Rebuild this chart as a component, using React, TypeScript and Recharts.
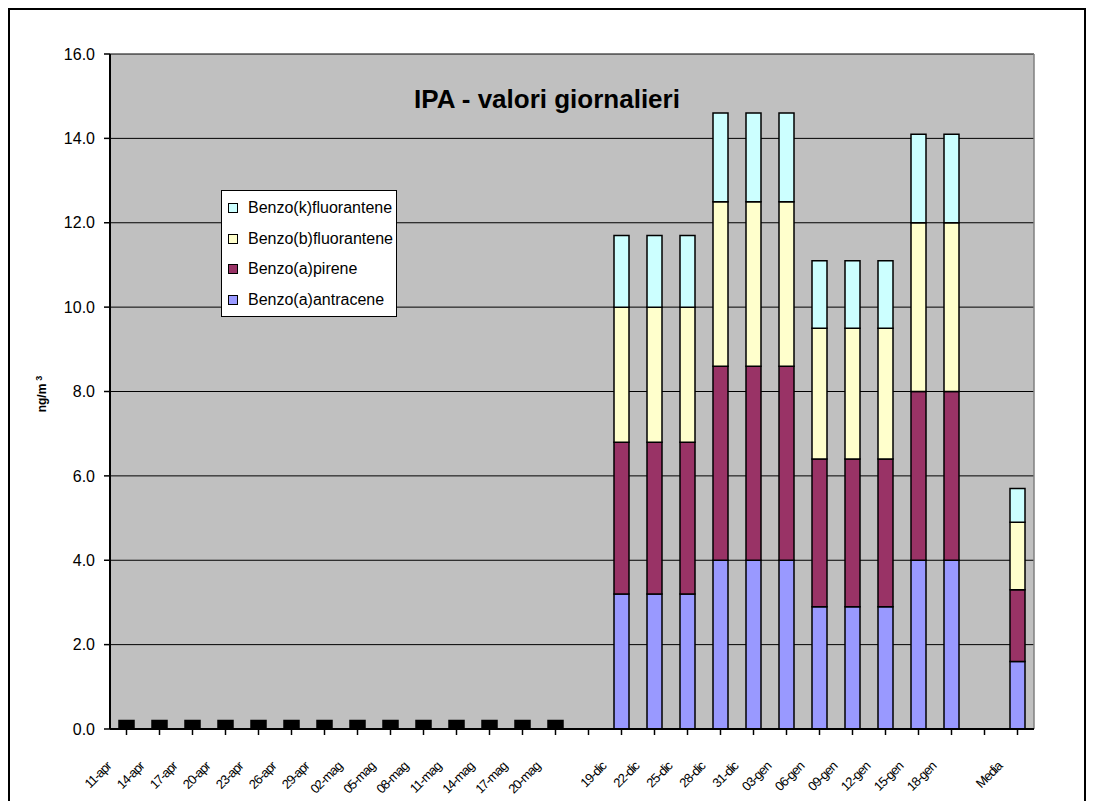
import { BarChart, Bar, XAxis, YAxis, CartesianGrid } from "recharts";

const categories = [
  "11-apr", "14-apr", "17-apr", "20-apr", "23-apr", "26-apr", "29-apr",
  "02-mag", "05-mag", "08-mag", "11-mag", "14-mag", "17-mag", "20-mag",
  "",
  "19-dic", "22-dic", "25-dic", "28-dic", "31-dic", "03-gen", "06-gen",
  "09-gen", "12-gen", "15-gen", "18-gen",
  "",
  "Media",
];

// valori sotto il limite (barre nere)
const sottoLimite = [
  0.2, 0.2, 0.2, 0.2, 0.2, 0.2, 0.2, 0.2, 0.2, 0.2, 0.2, 0.2, 0.2, 0.2,
  null,
  null, null, null, null, null, null, null, null, null, null, null,
  null,
  null,
];
const benzoAAntracene = [
  null, null, null, null, null, null, null, null, null, null, null, null, null, null,
  null,
  3.2, 3.2, 3.2, 4.0, 4.0, 4.0, 2.9, 2.9, 2.9, 4.0, 4.0,
  null,
  1.6,
];
const benzoAPirene = [
  null, null, null, null, null, null, null, null, null, null, null, null, null, null,
  null,
  3.6, 3.6, 3.6, 4.6, 4.6, 4.6, 3.5, 3.5, 3.5, 4.0, 4.0,
  null,
  1.7,
];
const benzoBFluorantene = [
  null, null, null, null, null, null, null, null, null, null, null, null, null, null,
  null,
  3.2, 3.2, 3.2, 3.9, 3.9, 3.9, 3.1, 3.1, 3.1, 4.0, 4.0,
  null,
  1.6,
];
const benzoKFluorantene = [
  null, null, null, null, null, null, null, null, null, null, null, null, null, null,
  null,
  1.7, 1.7, 1.7, 2.1, 2.1, 2.1, 1.6, 1.6, 1.6, 2.1, 2.1,
  null,
  0.8,
];

const yTicks = [0, 2, 4, 6, 8, 10, 12, 14, 16];

const SERIES = [
  { key: "baa", name: "Benzo(a)antracene", color: "#9999FF" },
  { key: "bap", name: "Benzo(a)pirene", color: "#993366" },
  { key: "bbf", name: "Benzo(b)fluorantene", color: "#FFFFCC" },
  { key: "bkf", name: "Benzo(k)fluorantene", color: "#CCFFFF" },
];

const data = categories.map((c, i) => ({
  name: c,
  nero: sottoLimite[i],
  baa: benzoAAntracene[i],
  bap: benzoAPirene[i],
  bbf: benzoBFluorantene[i],
  bkf: benzoKFluorantene[i],
}));

const FONT = "Arial, 'Liberation Sans', sans-serif";
const CAT_W = 33;

const XTick = ({ x, y, payload }: any) => (
  <g transform={`translate(${x - CAT_W / 2 + 2},${y + 30})`}>
    <text
      textAnchor="end"
      transform="rotate(-45)"
      fontSize={13}
      fontFamily={FONT}
      letterSpacing={-0.9}
      fill="#000"
    >
      {payload.value}
    </text>
  </g>
);

const YLabel = () => (
  <text
    transform="translate(36,384) rotate(-90)"
    textAnchor="middle"
    fontSize={12}
    fontWeight="bold"
    fontFamily={FONT}
    fill="#000"
  >
    ng/m
    <tspan dx={3} dy={-4} fontSize={9}>3</tspan>
  </text>
);

export default function App() {
  return (
    <div
      style={{
        position: "relative",
        width: 1078,
        height: 800,
        border: "2px solid #000",
        boxSizing: "border-box",
        background: "#fff",
      }}
    >
      <BarChart
        width={1074}
        height={796}
        data={data}
        margin={{ top: 44, right: 50, bottom: 0, left: 0 }}
        barSize={15}
      >
        <CartesianGrid
          vertical={false}
          stroke="#000"
          strokeWidth={1}
          fill="#C0C0C0"
          fillOpacity={1}
        />
        <CartesianGrid
          horizontal={false}
          verticalPoints={[1024]}
          stroke="#808080"
          strokeWidth={1.5}
        />
        <XAxis
          dataKey="name"
          height={77}
          interval={0}
          tick={<XTick />}
          tickLine={{ stroke: "#000", strokeWidth: 1.5 }}
          axisLine={{ stroke: "#000", strokeWidth: 2 }}
          tickSize={6}
        />
        <YAxis
          width={100}
          domain={[0, 16]}
          ticks={yTicks}
          interval={0}
          tickFormatter={(v: number) => v.toFixed(1)}
          tick={{ fontSize: 16, fontFamily: FONT, fill: "#000" }}
          tickLine={{ stroke: "#000", strokeWidth: 1.5 }}
          axisLine={{ stroke: "#000", strokeWidth: 2 }}
          tickSize={6}
          tickMargin={9}
          label={<YLabel />}
        />
        <Bar dataKey="nero" stackId="a" fill="#000" stroke="#000" strokeWidth={1.5} isAnimationActive={false} />
        {SERIES.map((s) => (
          <Bar
            key={s.key}
            dataKey={s.key}
            name={s.name}
            stackId="a"
            fill={s.color}
            stroke="#000"
            strokeWidth={1.5}
            isAnimationActive={false}
          />
        ))}
      </BarChart>

      <div
        style={{
          position: "absolute",
          left: 0,
          width: 1074,
          top: 74,
          textAlign: "center",
          fontFamily: FONT,
          fontWeight: "bold",
          fontSize: 26,
          lineHeight: "30px",
        }}
      >
        IPA - valori giornalieri
      </div>

      <div
        style={{
          position: "absolute",
          left: 211,
          top: 180,
          width: 176,
          height: 127,
          background: "#fff",
          border: "1.5px solid #000",
          boxSizing: "border-box",
          padding: "2px 0 0 6px",
          fontFamily: FONT,
          fontSize: 16,
        }}
      >
        {[...SERIES].reverse().map((s) => (
          <div key={s.key} style={{ display: "flex", alignItems: "center", height: 30.5 }}>
            <span
              style={{
                flexShrink: 0,
                width: 8,
                height: 8,
                background: s.color,
                border: "1.5px solid #000",
                marginRight: 10,
              }}
            />
            <span style={{ whiteSpace: "nowrap" }}>{s.name}</span>
          </div>
        ))}
      </div>
    </div>
  );
}
